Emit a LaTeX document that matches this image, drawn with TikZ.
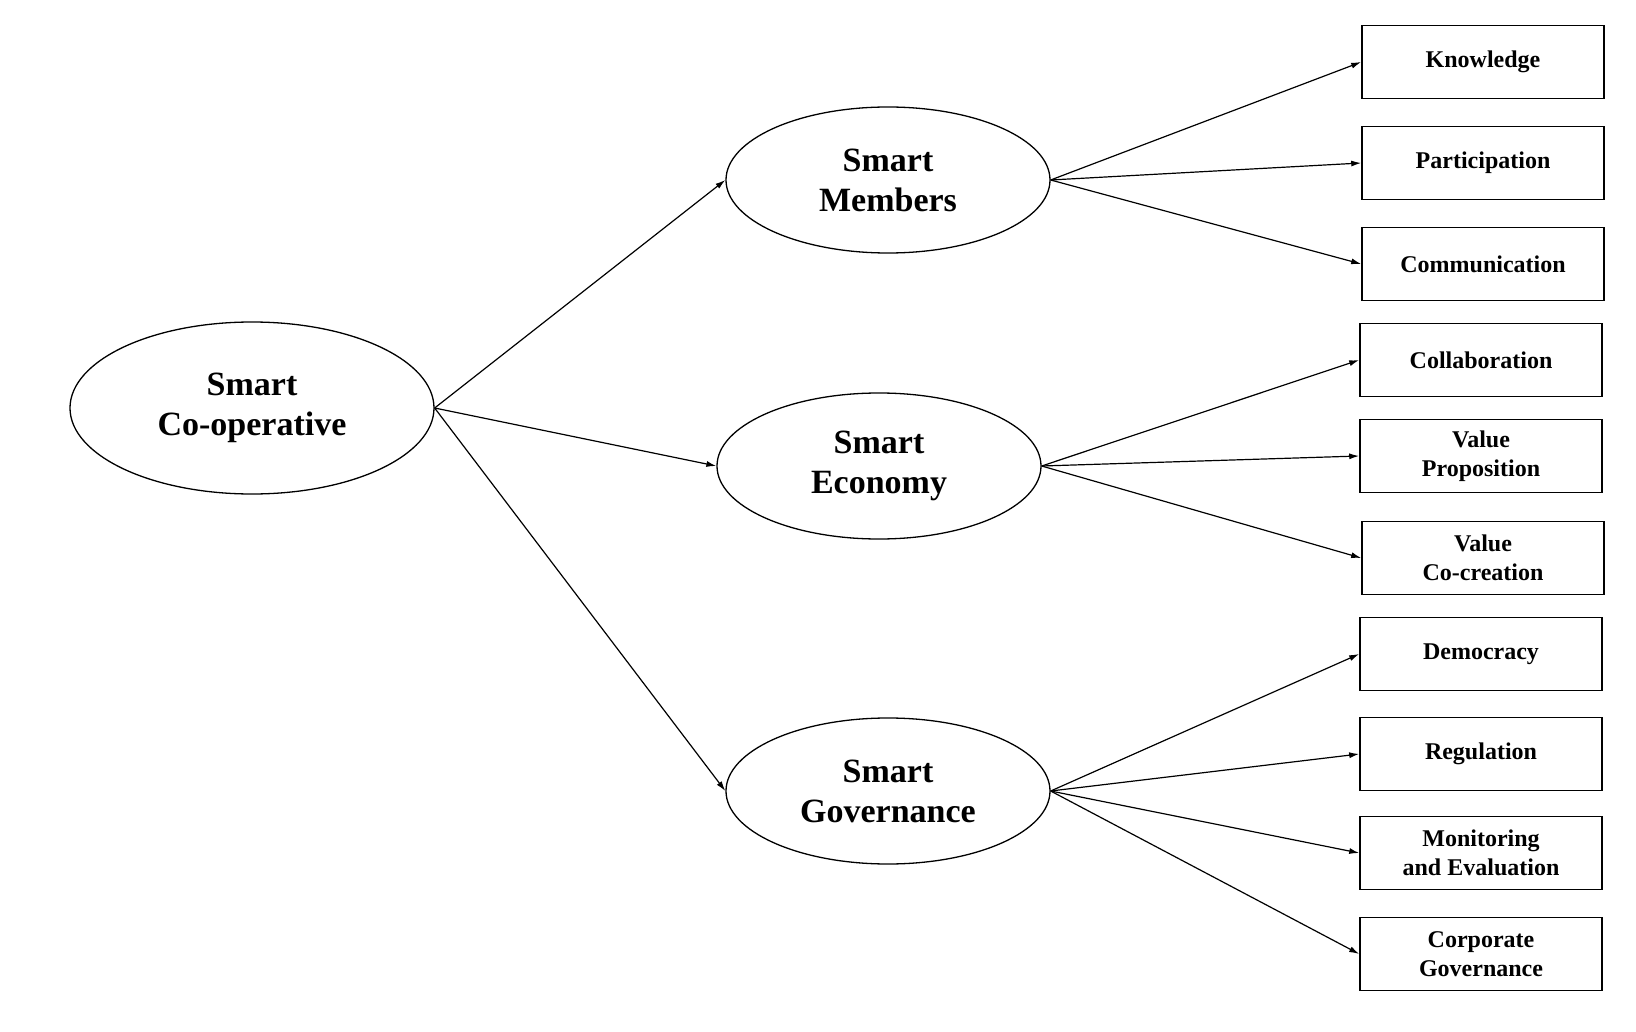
\documentclass[tikz,border=0pt]{standalone}
\usepackage{fontspec}
\setmainfont{Liberation Serif}
\usetikzlibrary{shapes.geometric,arrows.meta}
\begin{document}
\begin{tikzpicture}[x=1pt,y=-1pt,
 ell/.style={ellipse,draw,line width=1.3pt,minimum width=#1,font=\bfseries\fontsize{34}{40}\selectfont,align=center,inner sep=0pt},
 box/.style={draw,line width=1.6pt,minimum width=242pt,minimum height=73pt,font=\bfseries\fontsize{24}{29}\selectfont,align=center,inner sep=0pt},
 arr/.style={-{Latex[length=10pt,width=6pt]},line width=1.2pt}]
\useasboundingbox (0,0) rectangle (1636,1032);
\node[ell=364pt,minimum height=172pt] (co) at (252,408) {Smart\\Co-operative};
\node[ell=324pt,minimum height=146pt] (mem) at (888,180) {Smart\\Members};
\node[ell=324pt,minimum height=146pt] (eco) at (879,466) {Smart\\Economy};
\node[ell=324pt,minimum height=146pt] (gov) at (888,791) {Smart\\Governance};
\node[box] (k) at (1483,62) {Knowledge};
\node[box] (p) at (1483,163) {Participation};
\node[box] (c) at (1483,264) {Communication};
\node[box] (col) at (1481,360) {Collaboration};
\node[box] (vp) at (1481,456) {Value\\Proposition};
\node[box] (vc) at (1483,558) {Value\\Co-creation};
\node[box] (d) at (1481,654) {Democracy};
\node[box] (r) at (1481,754) {Regulation};
\node[box] (m) at (1481,853) {Monitoring\\and Evaluation};
\node[box] (cg) at (1481,954) {Corporate\\Governance};
\draw[arr] (co.east) -- (mem.west);
\draw[arr] (co.east) -- (eco.west);
\draw[arr] (co.east) -- (gov.west);
\foreach \t in {k,p,c} \draw[arr] (mem.east) -- (\t.west);
\foreach \t in {col,vp,vc} \draw[arr] (eco.east) -- (\t.west);
\foreach \t in {d,r,m,cg} \draw[arr] (gov.east) -- (\t.west);
\end{tikzpicture}
\end{document}
